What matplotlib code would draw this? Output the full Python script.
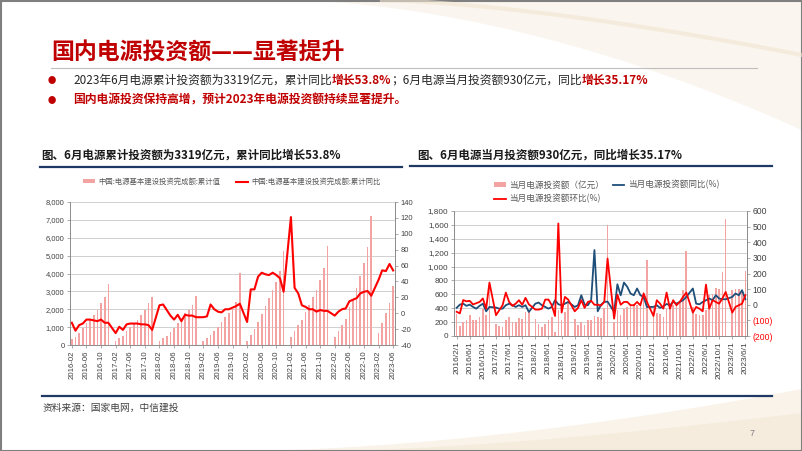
import numpy as np
import pandas as pd
import matplotlib
matplotlib.use("Agg")
import matplotlib.pyplot as plt
from matplotlib.patches import Rectangle

CJK = ["Noto Sans CJK SC", "DejaVu Sans"]
plt.rcParams["font.family"] = ["Liberation Sans", "Noto Sans CJK SC", "DejaVu Sans"]
plt.rcParams["axes.unicode_minus"] = False

# monthly categories 2016-02 .. 2023-06; January slots are empty (Jan-Feb reported together)
months = pd.period_range("2016-02", "2023-06", freq="M")


def by_month(*years):
    out = []
    for k, yr in enumerate(years):
        if k:
            out.append(np.nan)
        out.extend(yr)
    return np.array(out, dtype=float)


# left chart: cumulative investment (亿元) and cumulative YoY (%)
cum_inv = by_month(
    [320, 470, 680, 930, 1220, 1430, 1680, 1960, 2350, 2700, 3408],
    [230, 380, 530, 760, 1000, 1180, 1420, 1700, 1980, 2330, 2700],
    [230, 380, 520, 720, 950, 1220, 1500, 1780, 1970, 2250, 2721],
    [230, 380, 560, 760, 1030, 1270, 1540, 1800, 2000, 2400, 4050],
    [200, 560, 870, 1270, 1720, 2180, 2620, 3100, 3550, 4150, 5244],
    [470, 800, 1120, 1400, 1860, 2250, 2700, 3100, 3620, 4300, 5530],
    [450, 780, 1100, 1430, 2100, 2550, 3200, 3850, 4600, 5500, 7208],
    [650, 1240, 1780, 2350, 3319],
)
cum_yoy = by_month(
    [-12, -22, -15, -13, -8, -8, -9, -10, -8, -12, -12],
    [-25, -17, -21, -14, -13, -13, -13, -14, -14, -15, -21],
    [10, 11, 4, -3, -8, -2, -10, -2, -3, -3, -5],
    [-5, -4, 11, 5, 2, 1, 5, 5, 7, 9, 12],
    [-11, 30, 30, 46, 51, 49, 48, 51, 48, 44, 27],
    [121, 32, 25, 10, 8, 5, 5, 2, 4, 3, 3],
    [-3, 2, 5, 6, 15, 17, 19, 25, 27, 28, 22],
    [42, 54, 53, 62, 53.8],
)

# right chart: monthly investment (亿元), YoY (%), MoM (%)
mon_inv = by_month(
    [322, 144, 202, 236, 298, 236, 236, 274, 385, 298, 700],
    [178, 144, 130, 236, 274, 202, 202, 260, 240, 346, 370],
    [240, 178, 130, 178, 236, 274, 60, 370, 226, 346, 470],
    [240, 163, 202, 163, 226, 236, 288, 274, 260, 404, 1600],
    [200, 370, 300, 394, 418, 466, 457, 442, 490, 640, 1090],
    [400, 332, 313, 274, 394, 418, 442, 452, 490, 659, 1226],
    [420, 322, 300, 300, 370, 590, 600, 690, 670, 920, 1680],
    [660, 680, 680, 630, 930],
)
mon_yoy = by_month(
    [-20, 1, 7, -7, 1, -14, -25, -7, 7, -42, -14],
    [-18, -25, -25, -3, 7, -3, -14, -3, -14, -3, -46],
    [7, 14, -3, -14, -25, -14, 29, 3, -3, 7, 18],
    [-14, -3, 61, 1, -3, 29, 350, -42, 0, 18, 20],
    [-46, 131, 60, 142, 115, 72, 61, 104, 61, 50, -14],
    [-14, -3, -20, -10, 5, -3, 18, 7, 18, 29, 50],
    [104, 7, 3, 18, 29, 40, 29, 61, 40, 35, 35],
    [50, 72, 61, 93, 35.17],
)
mon_mom = by_month(
    [-45, -55, 30, 22, 25, 2, 10, 18, 40, -25, 142],
    [-67, -35, -3, 78, 18, -7, 7, 29, 0, 44, 3],
    [-31, -31, -25, 33, 33, -3, -72, 520, -50, 50, 33],
    [-42, -20, 29, -20, 18, 25, 0, 0, -5, 18, 296],
    [-89, 65, 0, 18, 18, -3, -3, 18, -3, 72, 18],
    [-72, 29, 7, -25, 78, -25, 29, -3, 18, 50, 78],
    [-50, -14, -25, -42, 129, -25, 29, 18, 7, 40, 82],
    [-50, -14, -3, 7, 61],
)

left_labels = [f"{p.year}-{p.month:02d}" for p in months]
right_labels = [f"{p.year}/{p.month}/1" for p in months]

BAR = "#F4A3A3"
RED = "#FF0000"
NAVY = "#1F4E79"
DARK_RED = "#C00000"
TXT = "#262626"
TICK = "#404040"
GRID = "#C9C9C9"
SPINE = "#8C8C8C"

W, H = 802, 451
fig = plt.figure(figsize=(W / 100, H / 100), dpi=100)

# slide layer in pixel coordinates
bg = fig.add_axes([0, 0, 1, 1], zorder=0)
bg.set_xlim(0, W)
bg.set_ylim(H, 0)
bg.axis("off")

xs = np.linspace(0, W, 400)
top1 = 130 * np.clip((xs - 280) / 522, 0, 1) ** 1.8
bg.fill_between(xs, 0, top1, color="#F9F3EA", alpha=0.8, lw=0)
top2 = 55 * np.clip((xs - 380) / 422, 0, 1) ** 1.5
bg.plot(xs[xs > 380], top2[xs > 380], color="#F1E5D2", lw=3, alpha=0.6)
bot = H - 62 * np.clip((xs - 240) / 562, 0, 1) ** 1.7
bg.fill_between(xs, bot, H, color="#F8F0E4", alpha=0.8, lw=0)
bot2 = H - 38 * np.clip((xs - 330) / 472, 0, 1) ** 1.5
bg.fill_between(xs, bot2, H, color="#F2E4CF", alpha=0.45, lw=0)
bg.add_patch(Rectangle((0.5, 0.5), W - 1, H - 1, fill=False, ec="#7F7F7F", lw=1.5))

bg.text(51, 52, "国内电源投资额——显著提升", family=CJK, fontsize=16.5,
        fontweight="bold", color=DARK_RED, va="center", ha="left")
bg.plot([51, 757], [68, 68], color="#BFBFBF", lw=0.8)


def run(x, y, parts, size):
    prev = None
    for s, color, weight in parts:
        if prev is None:
            prev = bg.text(x, y, s, color=color, fontweight=weight, fontsize=size,
                           family=CJK, va="center", ha="left")
        else:
            prev = bg.annotate(s, xy=(1, 0), xycoords=prev, va="bottom", ha="left",
                               color=color, fontweight=weight, fontsize=size, family=CJK)


for yb in (80, 100):
    bg.text(52, yb, "●", color=DARK_RED, fontsize=6, family=CJK, va="center", ha="center")
run(73, 80, [("2023年6月电源累计投资额为3319亿元，累计同比", TXT, "normal"),
             ("增长53.8%", DARK_RED, "bold"),
             ("；6月电源当月投资额930亿元，同比", TXT, "normal"),
             ("增长35.17%", DARK_RED, "bold")], 8.5)
run(73, 100, [("国内电源投资保持高增，预计2023年电源投资额持续显著提升。", DARK_RED, "bold")], 8.5)

bg.text(41, 155, "图、6月电源累计投资额为3319亿元，累计同比增长53.8%", family=CJK,
        fontsize=8.3, fontweight="bold", color="#1A1A1A", va="center")
bg.plot([40, 402], [167, 167], color="#1F3864", lw=1.6)
bg.text(417, 155, "图、6月电源当月投资额930亿元，同比增长35.17%", family=CJK,
        fontsize=8.3, fontweight="bold", color="#1A1A1A", va="center")
bg.plot([410, 772], [166, 166], color="#1F3864", lw=1.6)

bg.plot([42, 772], [396, 396], color="#1F3864", lw=1.6)
bg.text(43, 408, "资料来源：国家电网，中信建投", family=CJK, fontsize=7,
        color="#404040", va="center")
bg.text(750, 433, "7", fontsize=6.5, color="#808080", va="center")

x = np.arange(len(months))


def style(ax, axr):
    for a in (ax, axr):
        a.spines["top"].set_visible(False)
        for s in ("left", "right", "bottom"):
            a.spines[s].set_color(SPINE)
            a.spines[s].set_linewidth(0.6)
        a.tick_params(length=2, width=0.5, color=SPINE, labelcolor=TICK, pad=2)
    ax.set_axisbelow(True)
    ax.grid(axis="y", color=GRID, lw=0.6)
    ax.set_facecolor("none")
    axr.set_facecolor("none")


# ---- left chart ----
ax1 = fig.add_axes([70 / W, 1 - 345 / H, 325 / W, 143 / H], zorder=1)
bars1 = ax1.bar(x, cum_inv, width=0.45, color=BAR, lw=0)
ax1.set_xlim(-0.5, len(months) - 0.5)
ax1.set_ylim(0, 8000)
ax1.set_yticks(np.arange(0, 8001, 1000))
ax1.set_yticklabels([f"{v:,}" for v in range(0, 8001, 1000)], fontsize=5.4)
ax1.set_xticks(x[::4])
ax1.set_xticklabels(left_labels[::4], rotation=90, fontsize=5.6)
ax1r = ax1.twinx()
ok = ~np.isnan(cum_yoy)
line1, = ax1r.plot(x[ok], cum_yoy[ok], color=RED, lw=1.5)
ax1r.set_ylim(-40, 140)
ax1r.set_yticks(np.arange(-40, 141, 20))
ax1r.set_yticklabels([str(v) for v in range(-40, 141, 20)], fontsize=5.4)
style(ax1, ax1r)
ax1.legend([bars1, line1], ["中国:电源基本建设投资完成额:累计值", "中国:电源基本建设投资完成额:累计同比"],
           loc="center", bbox_to_anchor=(232 / W, 1 - 182 / H), bbox_transform=fig.transFigure,
           ncol=2, frameon=False, prop={"family": CJK, "size": 5.3}, labelcolor="#595959",
           handlelength=1.6, handleheight=0.5, handletextpad=0.4, columnspacing=2.2, borderpad=0)

# ---- right chart ----
ax2 = fig.add_axes([454 / W, 1 - 336 / H, 293 / W, 125 / H], zorder=1)
bars2 = ax2.bar(x, mon_inv, width=0.5, color=BAR, lw=0)
ax2.set_xlim(-0.8, len(months) - 0.5)
ax2.set_ylim(0, 1800)
ax2.set_yticks(np.arange(0, 1801, 200))
ax2.set_yticklabels([f"{v:,}" for v in range(0, 1801, 200)], fontsize=5.9)
ax2.set_xticks(x[::4])
ax2.set_xticklabels(right_labels[::4], rotation=90, fontsize=6.0)
ax2r = ax2.twinx()
ok = ~np.isnan(mon_yoy)
line_yoy, = ax2r.plot(x[ok], mon_yoy[ok], color=NAVY, lw=1.3)
ok = ~np.isnan(mon_mom)
line_mom, = ax2r.plot(x[ok], mon_mom[ok], color=RED, lw=1.3)
ax2r.set_ylim(-200, 600)
rticks = np.arange(-200, 601, 100)
ax2r.set_yticks(rticks)
ax2r.set_yticklabels([f"({-v})" if v < 0 else str(v) for v in rticks], fontsize=6.2)
style(ax2, ax2r)
for t, v in zip(ax2r.get_yticklabels(), rticks):
    if v < 0:
        t.set_color(RED)
ax2.legend([bars2, line_mom, line_yoy], ["当月电源投资额（亿元）", "当月电源投资额环比(%)", "当月电源投资额同比(%)"],
           loc="upper left", bbox_to_anchor=(490 / W, 1 - 176 / H), bbox_transform=fig.transFigure,
           ncol=2, frameon=False, prop={"family": CJK, "size": 6.2}, labelcolor="#595959",
           handlelength=1.3, handleheight=0.5, handletextpad=0.4, columnspacing=1.1,
           labelspacing=0.55, borderpad=0)

fig.savefig("out.png", dpi=100)
